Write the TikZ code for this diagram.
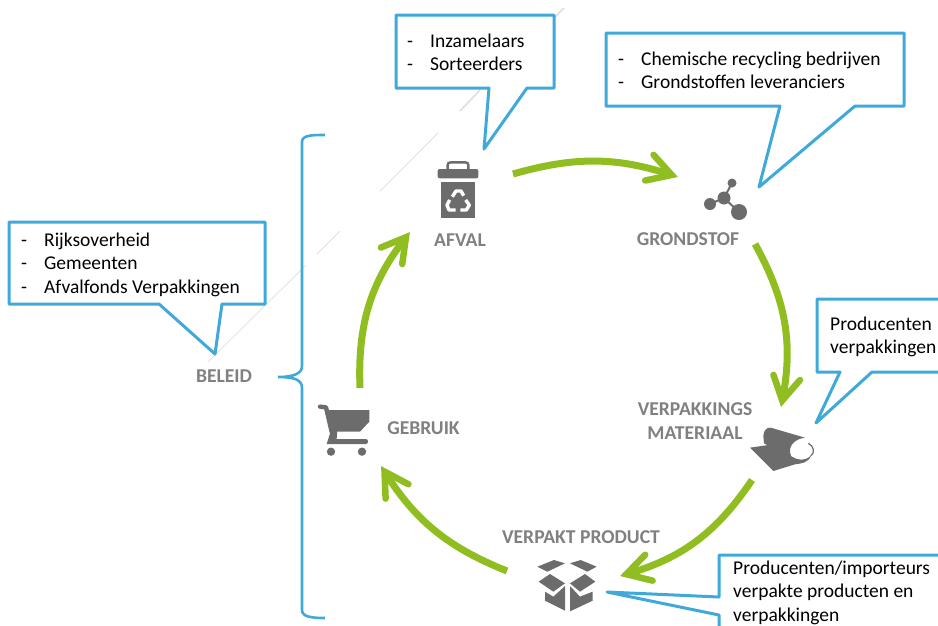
\documentclass[tikz,border=0pt]{standalone}
\usepackage{fontspec}
\setmainfont{Carlito}
\usepackage{tikz}
\usetikzlibrary{arrows.meta}
\definecolor{calloutblue}{RGB}{63,169,217}
\definecolor{cyclegreen}{RGB}{144,190,32}
\definecolor{icongray}{RGB}{108,108,108}
\definecolor{labelgray}{RGB}{128,128,128}
\definecolor{streakgray}{RGB}{222,222,222}
\newcommand{\listdash}{\makebox[23pt][l]{-}}
\pgfdeclarearrow{
  name=Chevron,
  setup code={\pgfarrowssettipend{6.6pt}\pgfarrowssetlineend{-1pt}\pgfarrowssetbackend{-23.5pt}},
  drawing code={\pgfsetlinewidth{6.5pt}\pgfsetroundcap\pgfsetmiterjoin\pgfsetdash{}{0pt}
    \pgfpathmoveto{\pgfqpoint{-23.5pt}{13.5pt}}\pgfpathlineto{\pgfpointorigin}\pgfpathlineto{\pgfqpoint{-23.5pt}{-13.5pt}}\pgfusepathqstroke}
}

\begin{document}
\begin{tikzpicture}[x=1pt,y=-1pt,
  callout/.style={draw=calloutblue,line width=3pt,line join=round,fill=white},
  callouttext/.style={anchor=west,align=left,inner sep=0pt,font=\fontsize{19.5}{23.4}\selectfont},
  stagelabel/.style={align=center,inner sep=0pt,text=labelgray,font=\fontsize{19.6}{24}\selectfont\bfseries},
  cyclearrow/.style={draw=cyclegreen,line width=7pt,-{Chevron}},
  icon/.style={fill=icongray,draw=none}]
  \clip (0,0) rectangle (938,625);
  %faint streak
  \draw[streakgray,line width=1.6pt] (564,8) -- (554,18);
  \draw[streakgray,line width=1.6pt] (480,90) -- (460,111);
  \draw[streakgray,line width=1pt] (438,133) -- (416,155);
  \draw[streakgray,line width=.7pt] (416,155) -- (380,191);
  \draw[streakgray,line width=1pt] (340,231) -- (317,254);
  \draw[streakgray,line width=.7pt] (306,265) -- (208,362);
  %bracket
  \coordinate (bracket-top) at (325,135);
  \coordinate (bracket-tip) at (278,377);
  \coordinate (bracket-bottom) at (325,618);
  \draw[calloutblue,line width=2.6pt] (bracket-top) .. controls (312,135) and (302,135) .. (302,142) -- (302,366) .. controls (302,373) and (295,377) .. (bracket-tip) .. controls (295,377) and (302,380) .. (302,388) -- (302,610) .. controls (302,617) and (312,618) .. (bracket-bottom);
  %callouts
  \draw[callout] (396,15) -- (554,15) -- (554,88) -- (527,88) -- (484,149) -- (489,88) -- (396,88) -- cycle;
  \node[callouttext] (afval-list) at (407,52.5) {\listdash Inzamelaars\\\listdash Sorteerders};
  \draw[callout] (606,33) -- (904,33) -- (904,106) -- (855,106) -- (759,187) -- (780,106) -- (606,106) -- cycle;
  \node[callouttext] (grondstof-list) at (618,70.5) {\listdash Chemische recycling bedrijven\\\listdash Grondstoffen leveranciers};
  \draw[callout] (9,222) -- (265,222) -- (265,304) -- (222,304) -- (215,354) -- (159,304) -- (9,304) -- cycle;
  \node[callouttext] (beleid-list) at (21,264.5) {\listdash Rijksoverheid\\\listdash Gemeenten\\\listdash Afvalfonds Verpakkingen};
  \draw[callout] (817,299) -- (950,299) -- (950,372) -- (872,372) -- (816,423) -- (840,372) -- (817,372) -- cycle;
  \node[callouttext] (materiaal-list) at (830,337) {Producenten\\verpakkingen};
  \draw[callout] (719,555) -- (950,555) -- (950,640) -- (719,640) -- (719,615) -- (607,592) -- (719,597) -- cycle;
  \node[callouttext] (product-list) at (733,592.5) {Producenten/importeurs\\verpakte producten en\\verpakkingen};
  %labels
  \node[stagelabel] (afval) at (460,240) {AFVAL};
  \node[stagelabel] (grondstof) at (688,239) {GRONDSTOF};
  \node[stagelabel] (materiaal) at (695,421) {VERPAKKINGS\\MATERIAAL};
  \node[stagelabel] (product) at (581,537) {VERPAKT PRODUCT};
  \node[stagelabel] (gebruik) at (423.5,428) {GEBRUIK};
  \node[stagelabel] (beleid) at (224,376) {BELEID};
  %cycle
  \coordinate (afval-out) at (513,174);
  \coordinate (grondstof-in) at (678,177);
  \coordinate (grondstof-out) at (755,244);
  \coordinate (materiaal-in) at (781,407);
  \coordinate (materiaal-out) at (752,480);
  \coordinate (product-in) at (620,576);
  \coordinate (product-out) at (507,571);
  \coordinate (gebruik-in) at (381,466);
  \coordinate (gebruik-out) at (360,388);
  \coordinate (afval-in) at (410,232);
  \draw[cyclearrow] (afval-out) to[bend left=17] (grondstof-in);
  \draw[cyclearrow] (grondstof-out) to[bend left=20] (materiaal-in);
  \draw[cyclearrow] (materiaal-out) to[bend left=20] (product-in);
  \draw[cyclearrow] (product-out) to[bend left=18] (gebruik-in);
  \draw[cyclearrow] (gebruik-out) to[bend left=20] (afval-in);
  %bin
  \begin{scope}[shift={(425,155)},scale=1/3]
    \draw[icongray,line width=2.4pt] (68,42) -- (68,30) .. controls (68,24) and (72,22) .. (78,22) -- (120,22) .. controls (126,22) and (130,24) .. (130,30) -- (130,42);
    \fill[icon,rounded corners=2pt] (38,42) rectangle (160,70);
    \fill[icon] (47,82) rectangle (150,188);
    \draw[white,line width=3.4pt,line join=round] (82,125) -- (93,108) -- (108,108) -- (116,122);
    \draw[white,line width=3.4pt,line join=round] (122,135) -- (133,150) -- (124,165) -- (106,165);
    \draw[white,line width=3.4pt,line join=round] (92,165) -- (72,165) -- (66,150) -- (74,135);
  \end{scope}
  %molecule
  \draw[icongray,line width=2pt] (732,183) -- (724,198) -- (710,204) (724,198) -- (739,212);
  \fill[icon] (724,198) circle[radius=6.5] (732,183) circle[radius=4.5] (710,204) circle[radius=6] (739,212) circle[radius=8];
  %roll
  \begin{scope}[shift={(740,415)},scale=1/3]
    \fill[icon] (70,62) .. controls (72,45) and (80,37) .. (92,38) -- (195,68) .. controls (165,72) and (148,90) .. (150,112) -- (155,128) -- (92,96) -- (72,85) -- cycle;
    \fill[icon] (30,98) -- (85,90) -- (170,132) .. controls (190,138) and (208,130) .. (215,118) .. controls (205,145) and (185,145) .. (165,148) -- (100,168) -- cycle;
    \draw[icongray,line width=1.2pt] (205,85) .. controls (222,92) and (225,115) .. (213,122);
  \end{scope}
  %cart
  \begin{scope}[shift={(280,360)},scale=1/3]
    \draw[icongray,line width=4.4pt,line cap=round,line join=round] (120,140) -- (138,142) -- (155,215);
    \fill[icon] (142,150) -- (268,150) -- (268,185) -- (240,215) -- (155,215) -- cycle;
    \fill[icon] (155,205) -- (172,205) -- (170,237) -- (258,237) .. controls (266,237) and (266,252) .. (258,252) -- (140,252) -- cycle;
    \fill[icon] (153,275) circle[radius=12.5] (246,275) circle[radius=12.5];
  \end{scope}
  %box
  \begin{scope}[shift={(530,550)},scale=1/3]
    \fill[icon] (22,50) -- (72,30) -- (105,40) -- (52,65) -- cycle;
    \fill[icon] (120,40) -- (152,30) -- (200,50) -- (172,65) -- cycle;
    \fill[icon] (26,95) -- (60,72) -- (105,100) -- (70,125) -- cycle;
    \fill[icon] (120,100) -- (165,72) -- (196,95) -- (150,125) -- cycle;
    \fill[icon] (45,125) -- (70,140) -- (105,108) -- (105,182) -- (45,152) -- cycle;
    \fill[icon] (120,108) -- (150,140) -- (188,125) -- (188,152) -- (120,184) -- cycle;
  \end{scope}
\end{tikzpicture}
\end{document}
